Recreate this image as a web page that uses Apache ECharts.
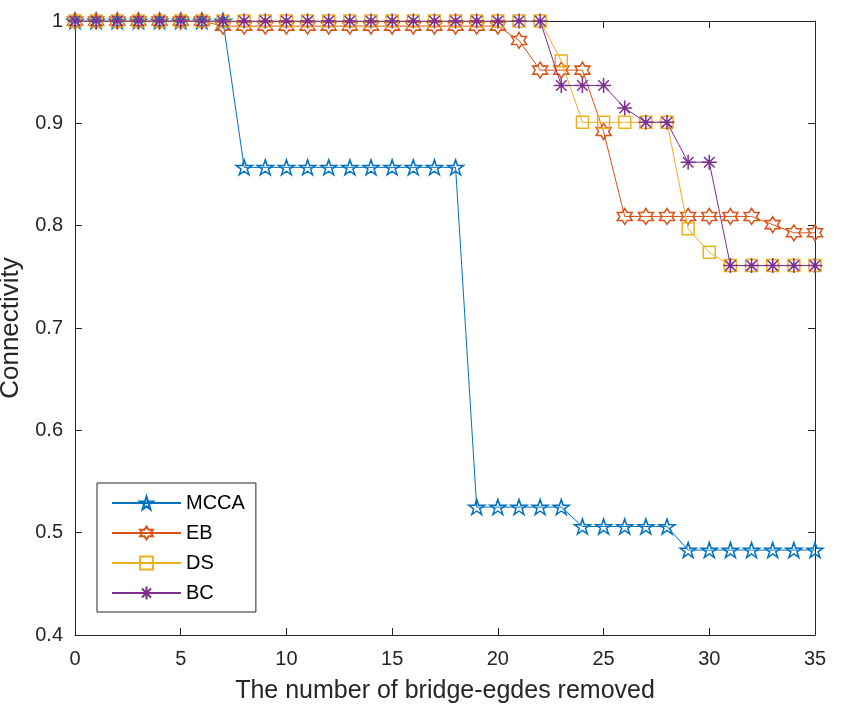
<!DOCTYPE html>
<html>
<head>
<meta charset="utf-8">
<script src="https://cdn.jsdelivr.net/npm/echarts@6/dist/echarts.min.js"></script>
<style>html,body{margin:0;padding:0;background:#fff}#c{width:845px;height:713px}</style>
</head>
<body>
<div id="c"></div>
<script>
const removed = [0,1,2,3,4,5,6,7,8,9,10,11,12,13,14,15,16,17,18,19,20,21,22,23,24,25,26,27,28,29,30,31,32,33,34,35];
const mcca = [1,1,1,1,1,1,1,1,
  0.857,0.857,0.857,0.857,0.857,0.857,0.857,0.857,0.857,0.857,0.857,
  0.525,0.525,0.525,0.525,0.525,
  0.506,0.506,0.506,0.506,0.506,
  0.483,0.483,0.483,0.483,0.483,0.483,0.483];
const eb = [1,1,1,1,1,1,1,
  0.995,0.995,0.995,0.995,0.995,0.995,0.995,0.995,0.995,0.995,0.995,0.995,0.995,0.995,
  0.981,0.952,0.952,0.952,0.892,
  0.809,0.809,0.809,0.809,0.809,0.809,0.809,
  0.801,0.793,0.793];
const ds = [1,1,1,1,1,1,1,1,1,1,1,1,1,1,1,1,1,1,1,1,1,1,1,
  0.961,0.901,0.901,0.901,0.901,0.901,0.797,0.774,
  0.761,0.761,0.761,0.761,0.761];
const bc = [1,1,1,1,1,1,1,1,1,1,1,1,1,1,1,1,1,1,1,1,1,1,1,
  0.937,0.937,0.937,0.915,0.901,0.901,0.862,0.862,
  0.761,0.761,0.761,0.761,0.761];
const names = ['MCCA','EB','DS','BC'];
const xTicks = [0,5,10,15,20,25,30,35];
const yTicks = [0.4,0.5,0.6,0.7,0.8,0.9,1];

const colors = ['#0072BD','#D95319','#EDB120','#7E2F8E'];
const starPath = 'path://M0,-10L2.245,-3.09L9.511,-3.09L3.633,1.18L5.878,8.09L0,3.82L-5.878,8.09L-3.633,1.18L-9.511,-3.09L-2.245,-3.09Z';
const hexPath = 'path://M0,-10L2.887,-5L8.66,-5L5.774,0L8.66,5L2.887,5L0,10L-2.887,5L-8.66,5L-5.774,0L-8.66,-5L-2.887,-5Z';
const astPath = 'path://M0,-10L0,10M-10,0L10,0M-7.07,-7.07L7.07,7.07M-7.07,7.07L7.07,-7.07';
const symbols = [starPath, hexPath, 'rect', astPath];
const sizes = [[16,15],[15,16],[12,12],[15,15]];
const seriesVals = [mcca, eb, ds, bc];

const txt = '#262626';
const font = 'Liberation Sans, Arial, sans-serif';

const series = seriesVals.map((vals, i) => ({
  name: names[i],
  type: 'line',
  data: removed.map((x, k) => [x, vals[k]]),
  symbol: symbols[i],
  symbolSize: sizes[i],
  showAllSymbol: true,
  lineStyle: { color: colors[i], width: 1 },
  itemStyle: { color: 'none', borderColor: colors[i], borderWidth: 1.5 },
  emphasis: { disabled: true },
  z: 2 + i
}));

const baseAxis = {
  axisLine: { show: true, onZero: false, lineStyle: { color: txt, width: 1 } },
  axisTick: { show: true, inside: true, length: 7, lineStyle: { color: txt } },
  splitLine: { show: false }
};

const option = {
  animation: false,
  backgroundColor: '#fff',
  grid: { left: 75, right: 30, top: 21, bottom: 78, containLabel: false, outerBoundsMode: 'none' },
  legend: {
    data: names,
    orient: 'vertical',
    left: 97, top: 483,
    backgroundColor: '#fff',
    borderColor: txt, borderWidth: 1,
    padding: [10, 11, 9, 14],
    itemWidth: 69, itemHeight: 16, itemGap: 10,
    textStyle: { fontSize: 20, color: '#000', fontFamily: font },
    selectedMode: false
  },
  xAxis: [
    Object.assign({}, baseAxis, {
      type: 'value', min: 0, max: 35, interval: 5, position: 'bottom',
      name: 'The number of bridge-egdes removed', nameLocation: 'middle', nameGap: 44,
      nameTextStyle: { fontSize: 25, color: txt, fontFamily: font },
      axisLabel: { fontSize: 20, color: txt, fontFamily: font, margin: 14,
        formatter: v => xTicks.includes(v) ? String(v) : '' }
    }),
    Object.assign({}, baseAxis, {
      type: 'value', min: 0, max: 35, interval: 5, position: 'top',
      axisLabel: { show: false }
    })
  ],
  yAxis: [
    Object.assign({}, baseAxis, {
      type: 'value', min: 0.4, max: 1, interval: 0.1, position: 'left',
      name: 'Connectivity', nameLocation: 'middle', nameGap: 46,
      nameTextStyle: { fontSize: 26, color: txt, fontFamily: font },
      axisLabel: { fontSize: 20, color: txt, fontFamily: font, margin: 12,
        formatter: v => { const t = yTicks.find(y => Math.abs(y - v) < 1e-6); return t === undefined ? '' : String(t); } }
    }),
    Object.assign({}, baseAxis, {
      type: 'value', min: 0.4, max: 1, interval: 0.1, position: 'right',
      axisLabel: { show: false }
    })
  ],
  series: series
};

const chart = echarts.init(document.getElementById('c'), null, { renderer: 'canvas' });
chart.setOption(option);
</script>
</body>
</html>
